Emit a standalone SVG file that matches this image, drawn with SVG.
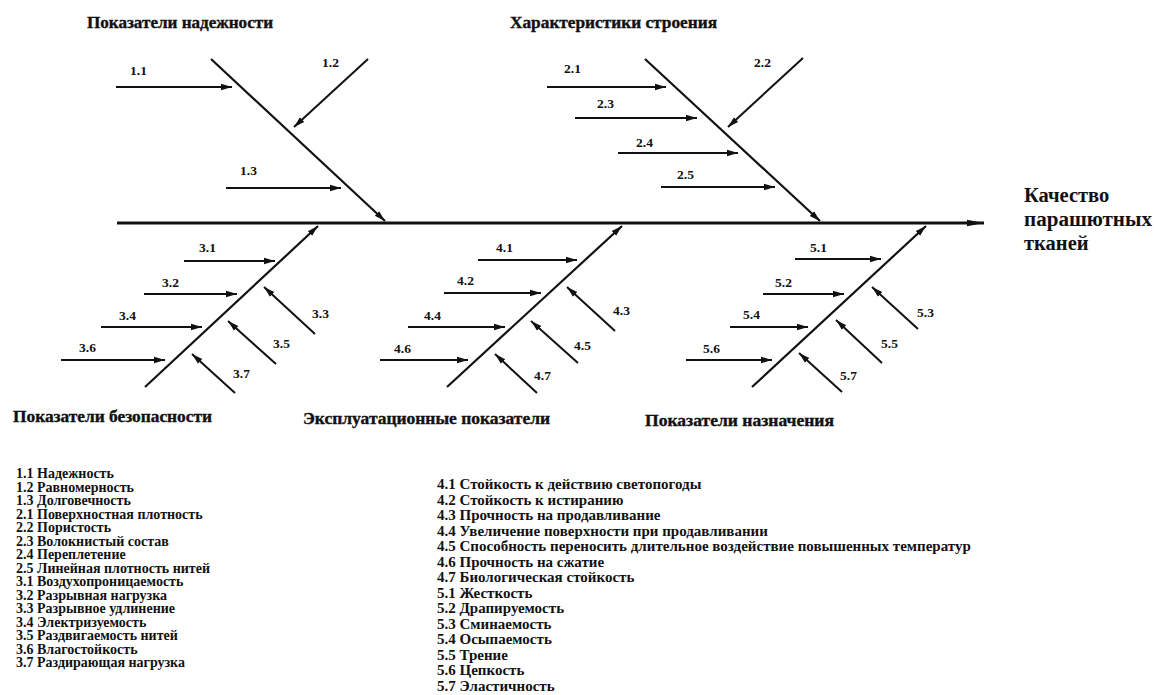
<svg xmlns="http://www.w3.org/2000/svg" width="1154" height="695" viewBox="0 0 1154 695">
<defs>
<style>
.bg{fill:#ffffff}
.ln{stroke:#111;stroke-width:2;fill:none;marker-end:url(#ah)}
.bone{stroke:#111;stroke-width:2.2;fill:none;marker-end:url(#ah)}
.spine{stroke:#111;stroke-width:3;fill:none;marker-end:url(#ahb)}
text{font-family:"Liberation Serif","DejaVu Serif","Times New Roman",serif;font-weight:bold;fill:#111}
.ttl{font-size:16px;stroke:#111;stroke-width:0.35}
.num{font-size:13.5px}
.lgl{font-size:14px}
.lgr{font-size:15px}
.eff{font-size:20.5px}
</style>
<marker id="ah" markerUnits="userSpaceOnUse" markerWidth="12" markerHeight="8" refX="11" refY="4" orient="auto">
<path d="M0,0.8 L11,4 L0,7.2 z" fill="#111"/>
</marker>
<marker id="ahb" markerUnits="userSpaceOnUse" markerWidth="18" markerHeight="8" refX="17" refY="4" orient="auto">
<path d="M0,0.8 L17,4 L0,7.2 z" fill="#111"/>
</marker>
</defs>
<rect class="bg" x="0" y="0" width="1154" height="695"/>

<g id="connectors">
<line class="spine" x1="117" y1="223" x2="984" y2="223"/>
<line class="bone" x1="211" y1="59" x2="385" y2="221"/>
<line class="ln" x1="116" y1="87" x2="232" y2="87"/>
<line class="ln" x1="368" y1="59" x2="294" y2="127"/>
<line class="ln" x1="226" y1="188" x2="341" y2="188"/>
<line class="bone" x1="645" y1="59" x2="820" y2="221"/>
<line class="ln" x1="547" y1="87" x2="666" y2="87"/>
<line class="ln" x1="803" y1="58" x2="728" y2="127"/>
<line class="ln" x1="575" y1="118" x2="697" y2="118"/>
<line class="ln" x1="618" y1="153" x2="738" y2="153"/>
<line class="ln" x1="661" y1="187" x2="775" y2="187"/>
<line class="bone" x1="145" y1="387" x2="318" y2="226"/>
<line class="ln" x1="184" y1="261" x2="275" y2="261"/>
<line class="ln" x1="144" y1="294" x2="237" y2="294"/>
<line class="ln" x1="315" y1="334" x2="264" y2="287"/>
<line class="ln" x1="101" y1="327" x2="202" y2="327"/>
<line class="ln" x1="276" y1="364" x2="228" y2="321"/>
<line class="ln" x1="61" y1="360" x2="165" y2="360"/>
<line class="ln" x1="235" y1="393" x2="192" y2="354"/>
<line class="bone" x1="447" y1="387" x2="622" y2="226"/>
<line class="ln" x1="478" y1="260" x2="577" y2="260"/>
<line class="ln" x1="444" y1="293" x2="541" y2="293"/>
<line class="ln" x1="615" y1="331" x2="567" y2="287"/>
<line class="ln" x1="408" y1="327" x2="505" y2="327"/>
<line class="ln" x1="578" y1="363" x2="531" y2="321"/>
<line class="ln" x1="380" y1="360" x2="468" y2="360"/>
<line class="ln" x1="537" y1="393" x2="495" y2="354"/>
<line class="bone" x1="752" y1="387" x2="926" y2="226"/>
<line class="ln" x1="795" y1="259" x2="881" y2="259"/>
<line class="ln" x1="763" y1="294" x2="844" y2="294"/>
<line class="ln" x1="918" y1="329" x2="872" y2="287"/>
<line class="ln" x1="730" y1="327" x2="808" y2="327"/>
<line class="ln" x1="882" y1="363" x2="836" y2="320"/>
<line class="ln" x1="686" y1="360" x2="772" y2="360"/>
<line class="ln" x1="842" y1="392" x2="799" y2="353"/>
</g>

<g id="effect"><text class="eff" x="1024" y="202">Качество</text><text class="eff" x="1024" y="226" textLength="128" lengthAdjust="spacingAndGlyphs">парашютных</text><text class="eff" x="1024" y="250">тканей</text></g>

<g id="cat1"><text class="ttl" x="87" y="28" textLength="186" lengthAdjust="spacingAndGlyphs">Показатели надежности</text></g>
<g id="cat2"><text class="ttl" x="510" y="28" textLength="207" lengthAdjust="spacingAndGlyphs">Характеристики строения</text></g>
<g id="cat3"><text class="ttl" x="13" y="422" textLength="199" lengthAdjust="spacingAndGlyphs">Показатели безопасности</text></g>
<g id="cat4"><text class="ttl" x="303" y="424" textLength="247" lengthAdjust="spacingAndGlyphs">Эксплуатационные показатели</text></g>
<g id="cat5"><text class="ttl" x="645" y="426" textLength="189" lengthAdjust="spacingAndGlyphs">Показатели назначения</text></g>

<g id="labels">
<g id="n1-1"><text class="num" x="130" y="75">1.1</text></g>
<g id="n1-2"><text class="num" x="322" y="67">1.2</text></g>
<g id="n1-3"><text class="num" x="240" y="175">1.3</text></g>
<g id="n2-1"><text class="num" x="564" y="73">2.1</text></g>
<g id="n2-2"><text class="num" x="754" y="67">2.2</text></g>
<g id="n2-3"><text class="num" x="597" y="108">2.3</text></g>
<g id="n2-4"><text class="num" x="636" y="147">2.4</text></g>
<g id="n2-5"><text class="num" x="677" y="179">2.5</text></g>
<g id="n3-1"><text class="num" x="199" y="252">3.1</text></g>
<g id="n3-2"><text class="num" x="162" y="287">3.2</text></g>
<g id="n3-3"><text class="num" x="312" y="318">3.3</text></g>
<g id="n3-4"><text class="num" x="119" y="320">3.4</text></g>
<g id="n3-5"><text class="num" x="273" y="348">3.5</text></g>
<g id="n3-6"><text class="num" x="79" y="352">3.6</text></g>
<g id="n3-7"><text class="num" x="233" y="378">3.7</text></g>
<g id="n4-1"><text class="num" x="496" y="252">4.1</text></g>
<g id="n4-2"><text class="num" x="457" y="285">4.2</text></g>
<g id="n4-3"><text class="num" x="613" y="315">4.3</text></g>
<g id="n4-4"><text class="num" x="424" y="320">4.4</text></g>
<g id="n4-5"><text class="num" x="574" y="350">4.5</text></g>
<g id="n4-6"><text class="num" x="394" y="353">4.6</text></g>
<g id="n4-7"><text class="num" x="534" y="380">4.7</text></g>
<g id="n5-1"><text class="num" x="810" y="252">5.1</text></g>
<g id="n5-2"><text class="num" x="775" y="287">5.2</text></g>
<g id="n5-3"><text class="num" x="917" y="317">5.3</text></g>
<g id="n5-4"><text class="num" x="743" y="319">5.4</text></g>
<g id="n5-5"><text class="num" x="881" y="348">5.5</text></g>
<g id="n5-6"><text class="num" x="703" y="353">5.6</text></g>
<g id="n5-7"><text class="num" x="840" y="380">5.7</text></g>
</g>

<g id="legend-left">
<text class="lgl" x="16" y="478">1.1 Надежность</text>
<text class="lgl" x="16" y="491.5">1.2 Равномерность</text>
<text class="lgl" x="16" y="505">1.3 Долговечность</text>
<text class="lgl" x="16" y="518.5">2.1 Поверхностная плотность</text>
<text class="lgl" x="16" y="532">2.2 Пористость</text>
<text class="lgl" x="16" y="545.5">2.3 Волокнистый состав</text>
<text class="lgl" x="16" y="559">2.4 Переплетение</text>
<text class="lgl" x="16" y="572.5">2.5 Линейная плотность нитей</text>
<text class="lgl" x="16" y="586">3.1 Воздухопроницаемость</text>
<text class="lgl" x="16" y="599.5">3.2 Разрывная нагрузка</text>
<text class="lgl" x="16" y="613">3.3 Разрывное удлинение</text>
<text class="lgl" x="16" y="626.5">3.4 Электризуемость</text>
<text class="lgl" x="16" y="640">3.5 Раздвигаемость нитей</text>
<text class="lgl" x="16" y="653.5">3.6 Влагостойкость</text>
<text class="lgl" x="16" y="667">3.7 Раздирающая нагрузка</text>
</g>

<g id="legend-right">
<text class="lgr" x="437" y="489">4.1 Стойкость к действию светопогоды</text>
<text class="lgr" x="437" y="504.5">4.2 Стойкость к истиранию</text>
<text class="lgr" x="437" y="520">4.3 Прочность на продавливание</text>
<text class="lgr" x="437" y="535.5">4.4 Увеличение поверхности при продавливании</text>
<text class="lgr" x="437" y="551">4.5 Способность переносить длительное воздействие повышенных температур</text>
<text class="lgr" x="437" y="566.5">4.6 Прочность на сжатие</text>
<text class="lgr" x="437" y="582">4.7 Биологическая стойкость</text>
<text class="lgr" x="437" y="597.5">5.1 Жесткость</text>
<text class="lgr" x="437" y="613">5.2 Драпируемость</text>
<text class="lgr" x="437" y="628.5">5.3 Сминаемость</text>
<text class="lgr" x="437" y="644">5.4 Осыпаемость</text>
<text class="lgr" x="437" y="659.5">5.5 Трение</text>
<text class="lgr" x="437" y="675">5.6 Цепкость</text>
<text class="lgr" x="437" y="690.5">5.7 Эластичность</text>
</g>
</svg>
